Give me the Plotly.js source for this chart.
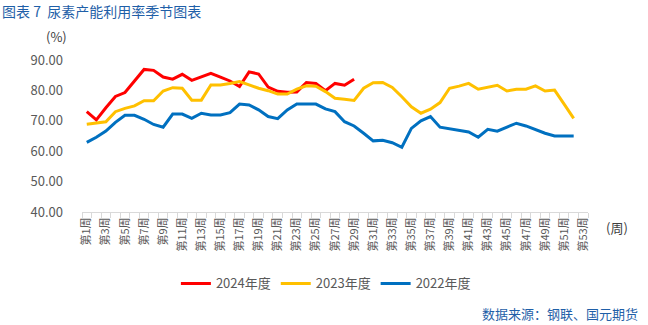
<!DOCTYPE html>
<html>
<head>
<meta charset="utf-8">
<script src="https://cdn.plot.ly/plotly-3.0.1.min.js"></script>
<style>html,body{margin:0;padding:0;background:#fff;}#chart{width:648px;height:325px;}</style>
</head>
<body>
<div id="chart"></div>
<script>
const weeks = Array.from({length: 53}, (_, i) => i + 1);
const weekLabels = weeks.map(w => '第' + w + '周');

const s2024 = [73.0, 70.3, 74.3, 78.0, 79.3, 83.1, 86.9, 86.6, 84.4, 83.7,
               85.3, 83.3, 84.4, 85.6, 84.4, 83.1, 81.3, 86.1, 85.4, 81.1,
               79.7, 79.4, 79.5, 82.6, 82.3, 79.9, 82.3, 81.7, 83.7];
const s2023 = [68.9, 69.2, 69.7, 73.0, 74.1, 74.9, 76.6, 76.6, 79.8, 80.9,
               80.7, 76.8, 76.8, 81.8, 81.8, 82.3, 82.9, 81.8, 80.7, 79.9,
               78.8, 78.8, 80.4, 81.5, 81.4, 79.6, 77.4, 77.1, 76.7, 80.7,
               82.5, 82.6, 81.0, 77.9, 74.6, 72.5, 73.8, 76.0, 80.7, 81.4,
               82.3, 80.4, 81.0, 81.7, 79.8, 80.4, 80.4, 81.5, 79.8, 80.1,
               75.5, 70.8];
const s2022 = [62.9, 64.6, 66.6, 69.5, 71.8, 71.8, 70.5, 68.8, 67.9, 72.2,
               72.2, 70.8, 72.5, 71.9, 71.9, 72.7, 75.5, 75.2, 73.6, 71.4,
               70.7, 73.6, 75.5, 75.5, 75.5, 73.9, 73.0, 69.7, 68.3, 65.9,
               63.4, 63.6, 62.8, 61.3, 67.5, 70.0, 71.4, 67.9, 67.4, 67.0,
               66.3, 64.6, 67.2, 66.6, 67.9, 69.2, 68.3, 67.0, 65.9, 65.0,
               65.0, 65.0];

const seriesNames = ['2024年度', '2023年度', '2022年度'];
const seriesColors = ['#FF0000', '#FFC000', '#0070C0'];
const seriesData = [s2024, s2023, s2022];

const yTicks = [40, 50, 60, 70, 80, 90];
const labelTickWeeks = weeks.filter(w => w % 2 === 1);

const traces = seriesData.map((d, k) => ({
  type: 'scatter',
  mode: 'lines',
  x: weeks.slice(0, d.length),
  y: d,
  name: seriesNames[k],
  line: {color: seriesColors[k], width: 3},
  hoverinfo: 'skip'
}));

const gray = '#595959';
const blue = '#1F5FA8';
const font = '"Noto Sans CJK SC", "Open Sans", sans-serif';

const layout = {
  width: 648, height: 325,
  margin: {l: 82, r: 60, t: 60, b: 113, pad: 0},
  paper_bgcolor: '#fff', plot_bgcolor: '#fff',
  font: {family: font, color: gray, size: 13},
  showlegend: true,
  legend: {
    orientation: 'h', x: 0.482, xanchor: 'center', y: -0.47, yanchor: 'middle',
    font: {size: 13, color: gray}, itemwidth: 30, tracegroupgap: 0
  },
  xaxis: {
    range: [0.5, 53.5],
    tickmode: 'array',
    tickvals: labelTickWeeks,
    ticktext: labelTickWeeks.map(w => weekLabels[w - 1]),
    tickangle: -90,
    tickfont: {size: 11, color: gray},
    ticks: '',
    showgrid: false, zeroline: false,
    showline: true, linecolor: '#D9D9D9', linewidth: 1,
    minor: {tick0: 0.5, dtick: 1, ticks: 'outside', ticklen: 5, tickcolor: '#D9D9D9', tickwidth: 1, showgrid: false},
    fixedrange: true
  },
  yaxis: {
    range: [40, 90],
    tickmode: 'array',
    tickvals: yTicks,
    ticktext: yTicks.map(v => v.toFixed(2)),
    tickfont: {size: 13, color: gray},
    ticks: '',
    ticklabelstandoff: 18,
    showgrid: false, zeroline: false, showline: false,
    fixedrange: true
  },
  annotations: [
    {text: '图表 7  尿素产能利用率季节图表', xref: 'paper', yref: 'paper', x: -82/506, y: 1 + 49/152,
     xanchor: 'left', yanchor: 'middle', showarrow: false,
     font: {size: 14, color: blue, family: font}},
    {text: '(%)', xref: 'paper', yref: 'paper', x: -26/506, y: 1 + 23/152,
     xanchor: 'center', yanchor: 'middle', showarrow: false,
     font: {size: 13, color: '#404040', family: font}},
    {text: '(周)', xref: 'paper', yref: 'paper', x: 1 + 29/506, y: -16/152,
     xanchor: 'center', yanchor: 'middle', showarrow: false,
     font: {size: 13, color: '#404040', family: font}},
    {text: '数据来源：钢联、国元期货', xref: 'paper', yref: 'paper', x: 1 + 52/506, y: -101/152,
     xanchor: 'right', yanchor: 'middle', showarrow: false,
     font: {size: 13, color: blue, family: font}}
  ]
};

Plotly.newPlot('chart', traces, layout, {staticPlot: true, displayModeBar: false});
</script>
</body>
</html>
